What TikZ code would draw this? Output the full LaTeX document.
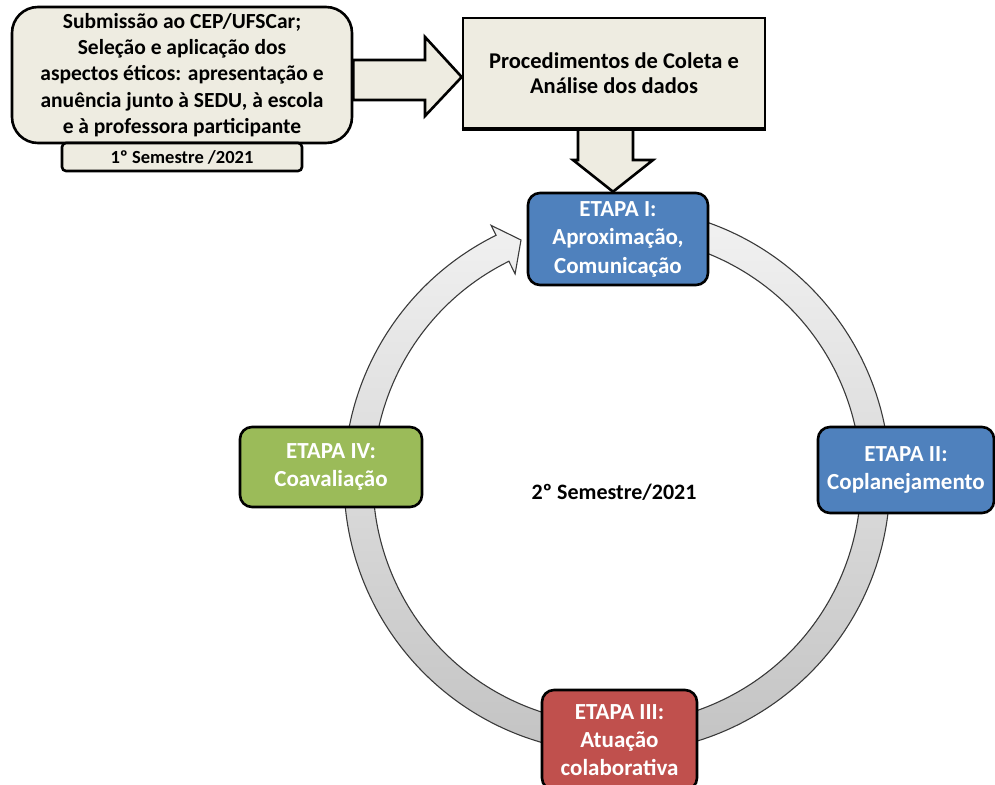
\documentclass[tikz,border=0pt]{standalone}
\usepackage{fontspec}
\setmainfont{Carlito}
\definecolor{panel}{HTML}{EEECE1}
\definecolor{stepblue}{HTML}{4F81BD}
\definecolor{stepgreen}{HTML}{9BBB59}
\definecolor{stepred}{HTML}{C0504D}
\definecolor{ringtop}{HTML}{F2F2F2}
\definecolor{ringbot}{HTML}{C2C2C2}
\definecolor{ringline}{HTML}{3A3A3A}
\begin{document}
\begin{tikzpicture}[x=1pt,y=-1pt,
  box/.style={draw=black, line width=2.6pt, align=center, inner sep=0pt,
    font=\bfseries\fontsize{21.5}{26.2}\selectfont},
  panelbox/.style={box, fill=panel, text=black},
  stagebox/.style={box, rounded corners=12pt, text=white,
    font=\bfseries\fontsize{23}{27.8}\selectfont},
  blockarrow/.style={draw=black, line width=2.6pt, fill=panel, line join=miter},
  cyclearrow/.style={draw=ringline, line width=1.1pt, top color=ringtop, bottom color=ringbot}
]
\useasboundingbox (0,0) rectangle (995,784);
\clip (0,0) rectangle (995,784);

% centre of the cycle
\coordinate (c) at (617,480);

% circular arrow of the four stages
\draw[cyclearrow]
  ([shift={(c)}]-85:273) arc[start angle=-85, end angle=243.7, radius=273]
  -- ([shift={(c)}]243.7:284) -- ([shift={(c)}]248.2:258.5)
  -- ([shift={(c)}]243.7:230) -- ([shift={(c)}]243.7:244)
  arc[start angle=243.7, end angle=-85, radius=244] -- cycle;

% boxes
\node[panelbox, rounded corners=26pt, minimum width=340pt, minimum height=136pt] (prep) at (182,75)
  {Submissão ao CEP/UFSCar;\\Seleção e aplicação dos\\aspectos éticos: apresentação e\\anuência junto à SEDU, à escola\\e à professora participante};
\node[panelbox, minimum width=302pt, minimum height=110pt,
  font=\bfseries\fontsize{22.5}{25.5}\selectfont] (proc) at (614,73)
  {Procedimentos de Coleta e\\Análise dos dados};

% block arrows
\draw[blockarrow] (prep.east |- 0,60) -- (425,60) -- (425,37) -- (proc.west |- 0,77)
  -- (425,116) -- (425,100) -- (prep.east |- 0,100) -- cycle;

\node[stagebox, fill=stepblue, minimum width=180pt, minimum height=92pt,
  font=\bfseries\fontsize{23}{28.5}\selectfont] (e1) at (618,239)
  {ETAPA I:\\Aproximação,\\Comunicação};

\draw[blockarrow] (proc.south -| 578,0) -- (578,160) -- (573,160) -- (e1.north -| 613,0)
  -- (653,160) -- (633,160) -- (proc.south -| 633,0) -- cycle;

% redraw the lower edge of the second box over the arrow shaft
\draw[line width=2.6pt] (proc.south west) -- (proc.south east);

\node[panelbox, rounded corners=4pt, minimum width=240pt, minimum height=28pt,
  font=\bfseries\fontsize{18.5}{20}\selectfont] (sem1) at (182,157) {1º Semestre /2021};

\node[stagebox, fill=stepblue, minimum width=176pt, minimum height=86pt] (e2) at (906,470)
  {ETAPA II:\\Coplanejamento};
\node[stagebox, fill=stepred, minimum width=155pt, minimum height=100pt] (e3) at (619.5,740)
  {ETAPA III:\\Atuação\\colaborativa};
\node[stagebox, fill=stepgreen, minimum width=182pt, minimum height=80pt] (e4) at (331,467)
  {ETAPA IV:\\Coavaliação};

\node[font=\bfseries\fontsize{22}{24}\selectfont] (sem2) at (614,492) {2º Semestre/2021};
\end{tikzpicture}
\end{document}
